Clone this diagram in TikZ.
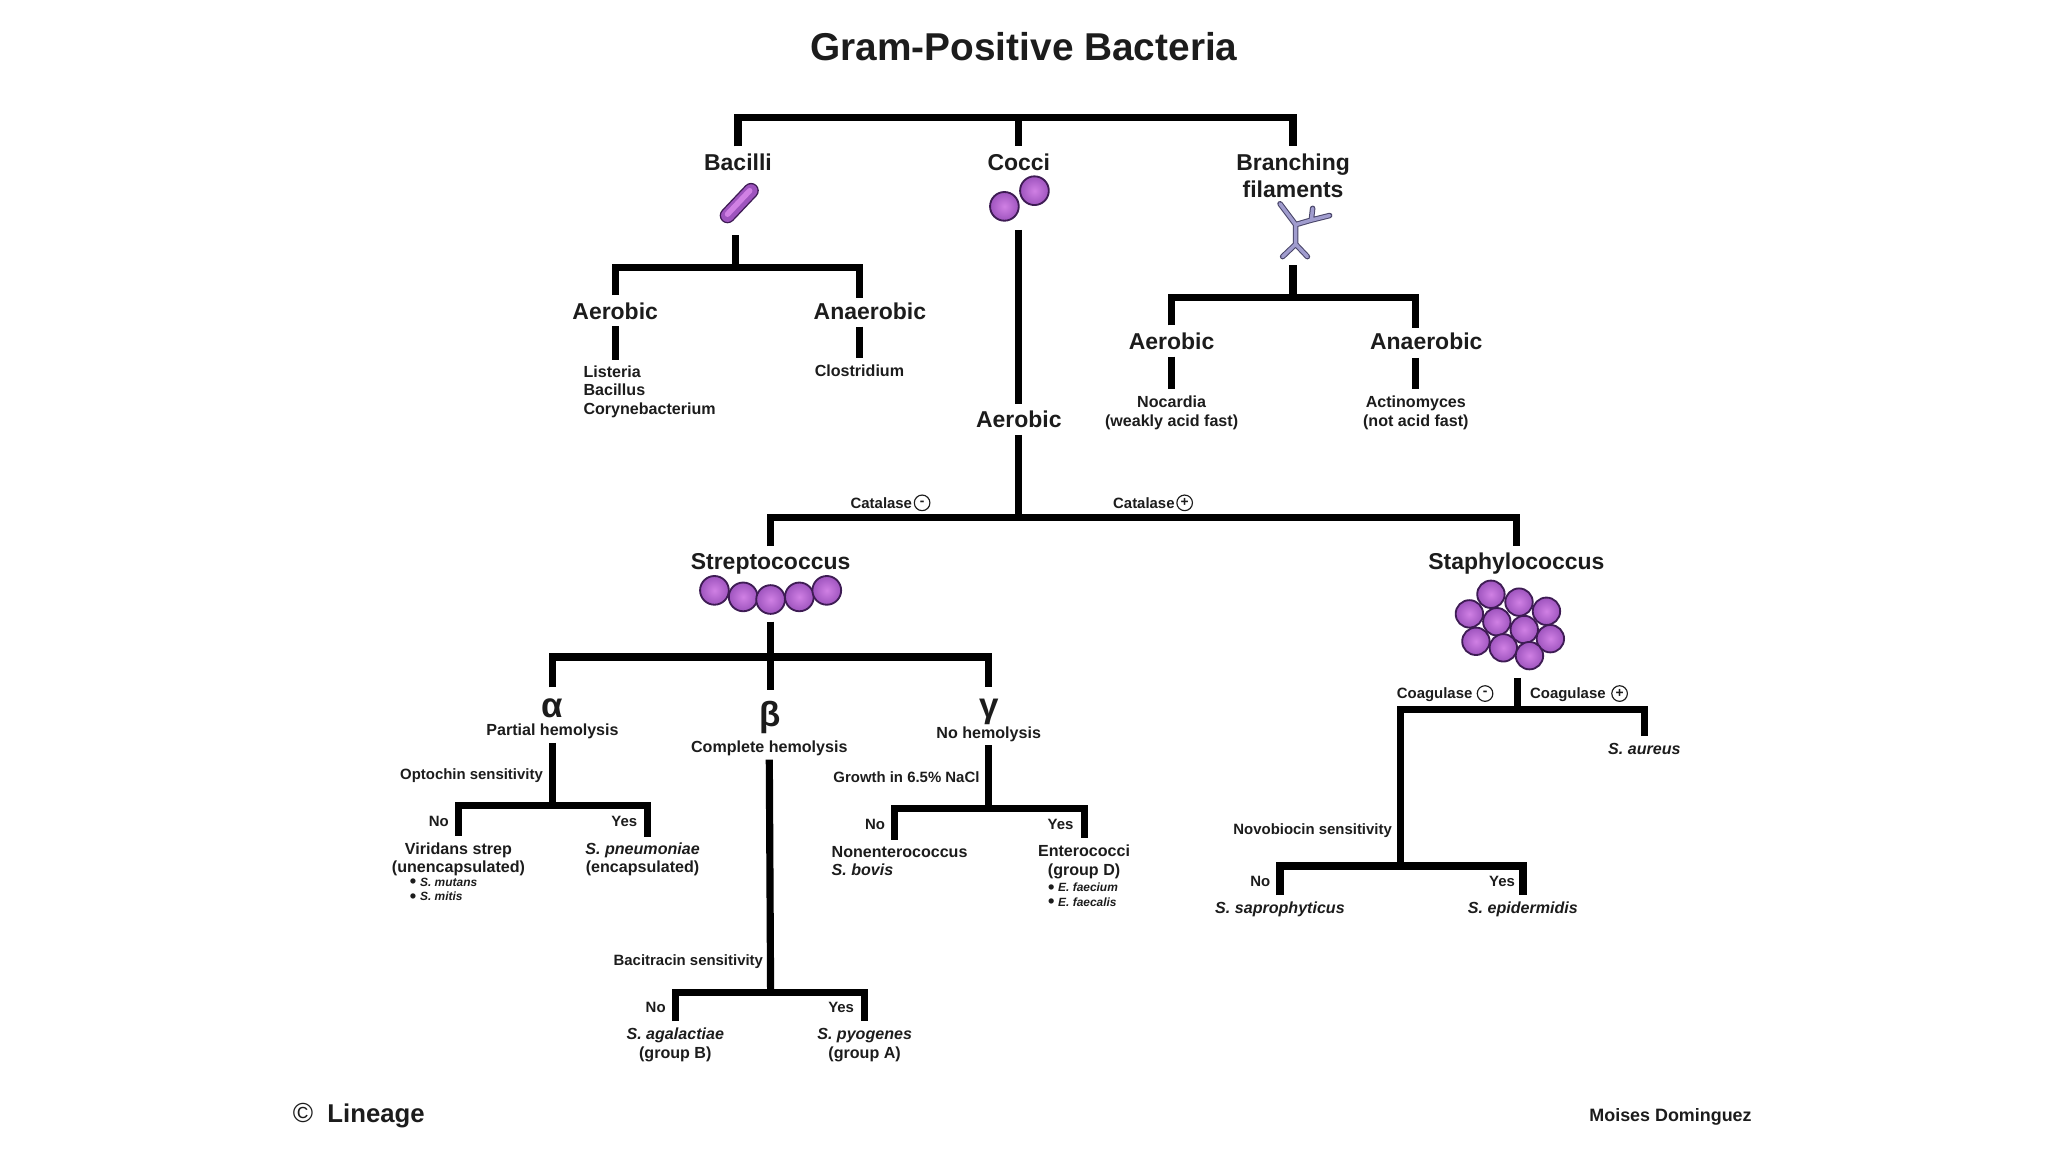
\documentclass[tikz,border=0pt]{standalone}
\usepackage{fontspec}
\setmainfont{Liberation Sans}

\begin{document}
\begin{tikzpicture}[x=0.01cm,y=-0.01cm,
  bar/.style={line width=1.56pt,black,line join=miter},
  bigfont/.style={font=\fontsize{5pt}{5.85pt}\selectfont\bfseries,text=labelink,inner sep=1.4pt},
  biglabel/.style={bigfont,text height=3.6pt,text depth=0pt},
  smallfont/.style={font=\fontsize{3.5pt}{4.1pt}\selectfont\bfseries,text=labelink,inner sep=1.3pt},
  smalllabel/.style={smallfont,text height=2.5pt,text depth=0pt},
  speciesfont/.style={font=\fontsize{3.5pt}{4.1pt}\selectfont\bfseries\itshape},
  testlabel/.style={font=\fontsize{3.25pt}{4pt}\selectfont\bfseries,text=labelink,inner sep=0pt},
  tinylabel/.style={font=\fontsize{2.6pt}{3pt}\selectfont\bfseries\itshape,text=labelink,inner sep=0pt,anchor=west},
  greek/.style={font=\fontsize{7.6pt}{8pt}\selectfont\bfseries,text=labelink,text height=5.1pt,text depth=0pt,inner sep=1.14pt},
  sign/.style={circle,draw=labelink,line width=0.25pt,inner sep=0pt,minimum size=3.4pt,
    font=\fontsize{3pt}{3pt}\selectfont\bfseries,text=labelink},
  coccus/.style={draw=cellline,line width=0.4pt,inner color=cellin,outer color=cellout}]
\definecolor{labelink}{RGB}{28,28,28}
\definecolor{cellin}{RGB}{208,128,228}
\definecolor{cellout}{RGB}{158,84,190}
\definecolor{cellline}{RGB}{62,28,84}
\definecolor{filamentin}{RGB}{160,156,206}
\definecolor{filamentline}{RGB}{72,68,104}
\newcommand{\bigdot}{\raisebox{-0.35pt}{\fontsize{4pt}{3pt}\selectfont •}\,\,}
\useasboundingbox (0,0) rectangle (1568,882);

\node[font=\fontsize{8.45pt}{10pt}\selectfont\bfseries,text=labelink] (title) at (784,36) {Gram-Positive Bacteria};

% Three cell shapes under the root.
\node[biglabel] (bacilli) at (565,124) {Bacilli};
\node[biglabel] (cocci) at (780,124) {Cocci};
\node[bigfont,align=center] (filaments) at (990,134.5) {Branching\\filaments};
\coordinate (rootbar) at (780,90);
\draw[bar] (bacilli.north) |- (rootbar) -| (filaments.north);
\draw[bar] (rootbar) -- (cocci.north);

% Rod, pair and branching cell.
\draw[line width=3.4pt,line cap=round,cellline] (557,165)--(575,146);
\draw[line width=2.8pt,line cap=round,cellout] (557,165)--(575,146);
\draw[line width=1.2pt,line cap=round,cellin] (557,164)--(574,146);
\foreach \cx/\cy in {769/158,792/146}
  \shadedraw[coccus] (\cx,\cy) circle (11);
\draw[line width=1.2pt,filamentline,line cap=round,line join=round]
  (980,156)--(992,172)--(992,187)--(982,196.5) (992,187)--(1001,196.5)
  (992,172)--(1004,168.5)--(1018,165) (1004,168.5)--(1005,159.5);
\draw[line width=0.75pt,filamentin,line cap=round,line join=round]
  (980,156)--(992,172)--(992,187)--(982,196.5) (992,187)--(1001,196.5)
  (992,172)--(1004,168.5)--(1018,165) (1004,168.5)--(1005,159.5);

% Bacilli branch.
\coordinate (rodstem) at (563,180);
\coordinate (rodsplit) at (563,205);
\node[biglabel] (bacaero) at (471,238) {Aerobic};
\node[biglabel] (bacana) at (666,238) {Anaerobic};
\coordinate (bacanain) at (658,228);
\coordinate (bacanaout) at (658,250);
\node[smallfont,align=left,anchor=north west] (bacaerolist) at (441.5,274.5) {Listeria\\Bacillus\\Corynebacterium};
\node[smalllabel] (clostridium) at (658,284) {Clostridium};
\draw[bar] (rodstem) -- (rodsplit);
\draw[bar] (bacaero.north) |- (rodsplit) -| (bacanain);
\draw[bar] (bacaero.south) -- (471,276);
\draw[bar] (bacanaout) -- (clostridium.north);

% Branching filaments branch.
\coordinate (filstem) at (990,203);
\coordinate (filsplit) at (990,228);
\node[biglabel] (filaero) at (897,261) {Aerobic};
\node[biglabel] (filana) at (1092,261) {Anaerobic};
\coordinate (filanain) at (1084,251);
\coordinate (filanaout) at (1084,274);
\node[smallfont,align=center] (nocardia) at (897,316) {Nocardia\\(weakly acid fast)};
\node[smallfont,align=center] (actinomyces) at (1084,316) {Actinomyces\\(not acid fast)};
\draw[bar] (filstem) -- (filsplit);
\draw[bar] (filaero.north) |- (filsplit) -| (filanain);
\draw[bar] (filaero.south) -- (nocardia.north);
\draw[bar] (filanaout) -- (actinomyces.north);

% Cocci down to the catalase split.
\coordinate (coccistem) at (780,176);
\coordinate (catsplit) at (780,396);
\node[biglabel] (cocciaero) at (780,321) {Aerobic};
\node[biglabel] (strep) at (590,430) {Streptococcus};
\node[biglabel] (staph) at (1161,430) {Staphylococcus};
\draw[bar] (coccistem) -- (cocciaero.north);
\draw[bar] (cocciaero.south) -- (catsplit);
\draw[bar] (strep.north) |- (catsplit) -| (staph.north);
\node[testlabel,anchor=east] (catneg) at (699,385) {Catalase};
\node[sign] (catnegsign) at (706,385) {-};
\node[testlabel,anchor=east] (catpos) at (900,385) {Catalase};
\node[sign] (catpossign) at (907,385) {+};

\foreach \cx/\cy in {547/452,569/457,590/459,612/457,633/452}
  \shadedraw[coccus] (\cx,\cy) circle (11);
\foreach \cx/\cy in {1141.5/455,1163/461,1184/468,1125/470,1146/476,1167/482,1187/489,1130/491,1151/496,1171/502}
  \shadedraw[coccus] (\cx,\cy) circle (10.5);

% Streptococcus and its three hemolysis groups.
\coordinate (strepstem) at (590,476);
\coordinate (strepsplit) at (590,503);
\node[greek] (alpha) at (423,540) {α};
\node[greek,inner sep=2.5pt] (beta) at (590,547) {β};
\node[greek] (gamma) at (757,540) {γ};
\node[smalllabel] (alphahem) at (423,559) {Partial hemolysis};
\node[smalllabel] (betahem) at (589,572) {Complete hemolysis};
\node[smalllabel] (gammahem) at (757,561) {No hemolysis};
\draw[bar] (strepstem) -- (beta.north);
\draw[bar] (alpha.north) |- (strepsplit) -| (gamma.north);

% Alpha.
\coordinate (alphasplit) at (423,617);
\coordinate (pneumoin) at (496,641);
\node[smallfont,align=center] (viridans) at (351,658) {Viridans strep\\(unencapsulated)};
\node[smallfont,align=center] (pneumoniae) at (492,658) {\itshape S. pneumoniae\\(encapsulated)};
\node[tinylabel] (mutans) at (313,676) {\bigdot S. mutans};
\node[tinylabel] (mitis) at (313,687) {\bigdot S. mitis};
\node[testlabel] (optochin) at (361,594) {Optochin sensitivity};
\node[testlabel] (alphano) at (336,629) {No};
\node[testlabel] (alphayes) at (478,629) {Yes};
\draw[bar] (alphahem.south) -- (alphasplit);
\draw[bar] (viridans.north) |- (alphasplit) -| (pneumoin);

% Beta.
\coordinate (betasplit) at (590,760);
\node[smallfont,align=center] (agalactiae) at (517,800) {\itshape S. agalactiae\\(group B)};
\node[smallfont,align=center] (pyogenes) at (662,800) {\itshape S. pyogenes\\(group A)};
\node[testlabel] (bacitracin) at (527,736) {Bacitracin sensitivity};
\node[testlabel] (betano) at (502,771) {No};
\node[testlabel] (betayes) at (644,771) {Yes};
\draw[bar] (betahem.south) -- (betasplit);
\draw[bar] (agalactiae.north) |- (betasplit) -| (pyogenes.north);

% Gamma.
\coordinate (gammasplit) at (757,619);
\coordinate (nonentin) at (685,643);
\node[smallfont,align=left,anchor=north west] (nonent) at (631.5,642.5) {Nonenterococcus\\\itshape S. bovis};
\node[smallfont,align=center] (entero) at (830,660) {Enterococci\\(group D)};
\node[tinylabel] (faecium) at (801.5,680) {\bigdot E. faecium};
\node[tinylabel] (faecalis) at (801.5,691) {\bigdot E. faecalis};
\node[testlabel] (nacl) at (694,595) {Growth in 6.5\% NaCl};
\node[testlabel] (gammano) at (670,631) {No};
\node[testlabel] (gammayes) at (812,631) {Yes};
\draw[bar] (gammahem.south) -- (gammasplit);
\draw[bar] (nonentin) |- (gammasplit) -| (entero.north);

% Staphylococcus.
\coordinate (staphstem) at (1162,519);
\coordinate (coagsplit) at (1162,543);
\coordinate (novosplit) at (1072,663);
\node[smalllabel,speciesfont] (aureus) at (1259,573) {S. aureus};
\node[smalllabel,speciesfont] (saprophyticus) at (980,695) {S. saprophyticus};
\node[smalllabel,speciesfont] (epidermidis) at (1166,695) {S. epidermidis};
\node[testlabel,anchor=east] (coagneg) at (1128,532) {Coagulase};
\node[sign] (coagnegsign) at (1137,531) {-};
\node[testlabel,anchor=east] (coagpos) at (1230,532) {Coagulase};
\node[sign] (coagpossign) at (1240,531) {+};
\node[testlabel] (novobiocin) at (1005,636) {Novobiocin sensitivity};
\node[testlabel] (novono) at (965,675) {No};
\node[testlabel] (novoyes) at (1150,675) {Yes};
\draw[bar] (staphstem) -- (coagsplit);
\draw[bar] (novosplit) |- (coagsplit) -| (aureus.north);
\draw[bar] (saprophyticus.north) |- (novosplit) -| (epidermidis.north);

% Credits.
\node[font=\fontsize{6pt}{7pt}\selectfont,text=labelink,inner sep=0pt] (copyright) at (232,852) {©};
\node[font=\fontsize{5.6pt}{7pt}\selectfont\bfseries,text=labelink,inner sep=0pt,anchor=west] (lineage) at (250,854) {Lineage};
\node[font=\fontsize{3.9pt}{5pt}\selectfont\bfseries,text=labelink,inner sep=0pt] (moises) at (1279,855.5) {Moises Dominguez};
\end{tikzpicture}
\end{document}
